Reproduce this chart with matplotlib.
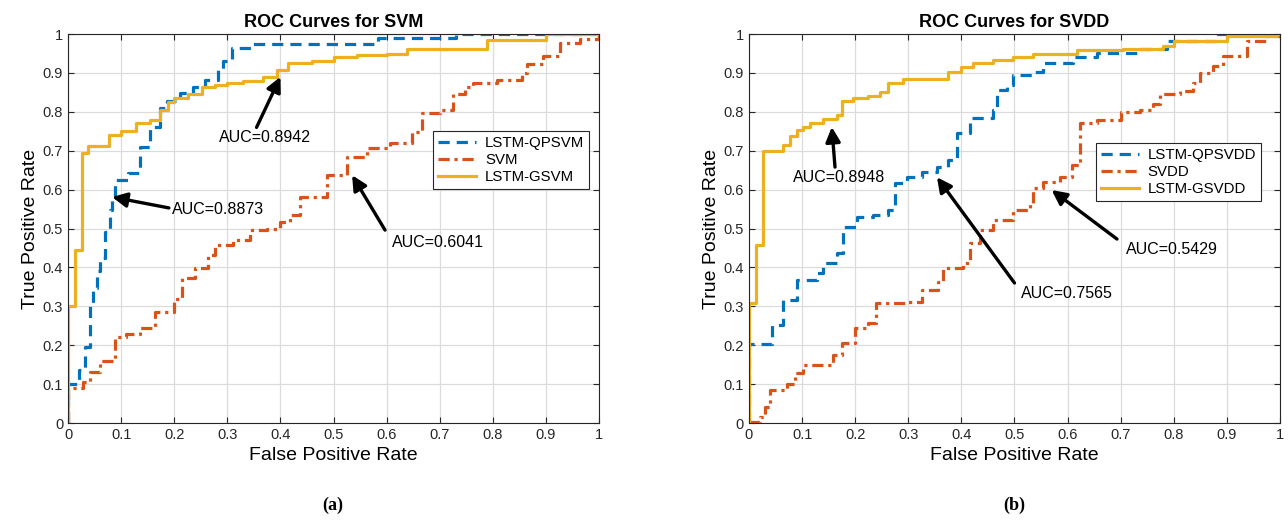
import numpy as np
import matplotlib
matplotlib.use('Agg')
import matplotlib.pyplot as plt

plt.rcParams['font.family'] = ['Liberation Sans', 'DejaVu Sans']

# ---- (a) SVM ----
svm_qp_x = [0, 0, 0.02, 0.032, 0.041, 0.047, 0.054, 0.06, 0.07, 0.079, 0.082, 0.089, 0.113, 0.136,
            0.154, 0.173, 0.186, 0.211, 0.235, 0.258, 0.282, 0.292, 0.309, 0.348, 0.584, 0.73, 1.0]
svm_qp_y = [0, 0.10, 0.136, 0.195, 0.30, 0.347, 0.39, 0.424, 0.49, 0.548, 0.58, 0.625, 0.643, 0.71,
            0.76, 0.81, 0.828, 0.848, 0.864, 0.882, 0.907, 0.93, 0.964, 0.974, 0.99, 1.0, 1.0]

svm_x = [0, 0, 0.028, 0.041, 0.06, 0.089, 0.089, 0.11, 0.136, 0.164, 0.2, 0.215, 0.24, 0.264,
         0.277, 0.31, 0.343, 0.375, 0.4, 0.418, 0.437, 0.487, 0.525, 0.525, 0.563, 0.606, 0.647,
         0.666, 0.70, 0.725, 0.748, 0.763, 0.808, 0.855, 0.864, 0.894, 0.927, 0.964, 1.0]
svm_y = [0, 0.09, 0.105, 0.13, 0.16, 0.175, 0.22, 0.23, 0.244, 0.285, 0.32, 0.373, 0.398, 0.432,
         0.458, 0.47, 0.496, 0.50, 0.517, 0.535, 0.58, 0.637, 0.643, 0.684, 0.707, 0.72, 0.748,
         0.797, 0.805, 0.846, 0.864, 0.874, 0.882, 0.90, 0.923, 0.943, 0.977, 0.987, 1.0]

svm_g_x = [0, 0, 0.013, 0.027, 0.038, 0.077, 0.1, 0.128, 0.154, 0.173, 0.188, 0.2, 0.226, 0.252,
           0.277, 0.3, 0.33, 0.367, 0.393, 0.415, 0.46, 0.5, 0.544, 0.6, 0.638, 0.789, 0.90, 1.0]
svm_g_y = [0, 0.30, 0.445, 0.694, 0.712, 0.74, 0.75, 0.771, 0.78, 0.805, 0.825, 0.835, 0.845, 0.863,
           0.87, 0.875, 0.88, 0.89, 0.907, 0.925, 0.93, 0.94, 0.945, 0.95, 0.962, 0.985, 1.0, 1.0]

# ---- (b) SVDD ----
svdd_qp_x = [0, 0, 0.043, 0.064, 0.09, 0.128, 0.14, 0.165, 0.177, 0.203, 0.234, 0.262, 0.275, 0.297,
             0.326, 0.354, 0.375, 0.392, 0.416, 0.46, 0.467, 0.486, 0.497, 0.535, 0.554, 0.61,
             0.655, 0.736, 0.787, 0.88, 1.0]
svdd_qp_y = [0, 0.203, 0.252, 0.316, 0.368, 0.385, 0.411, 0.437, 0.504, 0.53, 0.535, 0.548, 0.617, 0.632,
             0.645, 0.658, 0.676, 0.745, 0.784, 0.805, 0.856, 0.869, 0.895, 0.902, 0.925, 0.94,
             0.951, 0.962, 0.982, 1.0, 1.0]

svdd_x = [0, 0.02, 0.03, 0.04, 0.072, 0.087, 0.102, 0.158, 0.175, 0.2, 0.224, 0.24, 0.297, 0.326,
          0.356, 0.365, 0.403, 0.416, 0.435, 0.46, 0.497, 0.529, 0.535, 0.554, 0.586, 0.608, 0.623,
          0.655, 0.70, 0.736, 0.761, 0.774, 0.812, 0.836, 0.85, 0.874, 0.893, 0.938, 0.976, 1.0]
svdd_y = [0.003, 0.015, 0.04, 0.085, 0.10, 0.128, 0.149, 0.175, 0.205, 0.244, 0.257, 0.308, 0.311, 0.342,
          0.362, 0.398, 0.411, 0.463, 0.496, 0.522, 0.548, 0.565, 0.604, 0.62, 0.632, 0.663, 0.771,
          0.779, 0.80, 0.805, 0.82, 0.846, 0.854, 0.874, 0.90, 0.918, 0.943, 0.982, 0.995, 1.0]

svdd_g_x = [0, 0, 0.013, 0.027, 0.064, 0.077, 0.09, 0.102, 0.115, 0.14, 0.165, 0.175, 0.196, 0.224,
            0.247, 0.262, 0.29, 0.375, 0.40, 0.422, 0.46, 0.497, 0.535, 0.618, 0.704, 0.78, 0.80,
            0.90, 0.995, 1.0]
svdd_g_y = [0, 0.308, 0.458, 0.70, 0.715, 0.738, 0.753, 0.761, 0.771, 0.781, 0.792, 0.828, 0.835, 0.84,
            0.851, 0.874, 0.884, 0.902, 0.915, 0.925, 0.933, 0.941, 0.949, 0.959, 0.962, 0.969, 0.982,
            0.995, 1.0, 1.0]

ticks = np.round(np.arange(0, 1.01, 0.1), 1)
tick_labels = ['0'] + ['%.1f' % t for t in ticks[1:-1]] + ['1']

blue, red, yellow = '#0072BD', '#D95319', '#EDB120'


def setup(ax, title):
    ax.set_xlim(0, 1)
    ax.set_ylim(0, 1)
    ax.set_xticks(ticks)
    ax.set_yticks(ticks)
    ax.set_xticklabels(tick_labels)
    ax.set_yticklabels(tick_labels)
    ax.tick_params(direction='in', labelsize=10.5, length=4, top=True, right=True,
                   labelcolor='#262626', color='#262626')
    ax.grid(True, color='#dcdcdc', lw=0.9)
    ax.set_axisbelow(True)
    for s in ax.spines.values():
        s.set_color('#262626')
        s.set_linewidth(0.8)
    ax.set_title(title, fontsize=13, fontweight='bold', pad=5)
    ax.set_xlabel('False Positive Rate', fontsize=14, labelpad=4)
    ax.set_ylabel('True Positive Rate', fontsize=14, labelpad=3)


def arrow(ax, tail, tip):
    ax.annotate('', xy=tip, xytext=tail,
                arrowprops=dict(arrowstyle='-|>', color='k', lw=2.4, mutation_scale=22,
                                shrinkA=0, shrinkB=0))


def legend(ax, anchor):
    leg = ax.legend(loc='upper right', bbox_to_anchor=anchor, fontsize=10.8, fancybox=False,
                    edgecolor='#262626', handlelength=2.5, labelspacing=0.2, borderpad=0.35,
                    handletextpad=0.6, framealpha=1)
    leg.get_frame().set_linewidth(0.8)


fig = plt.figure(figsize=(12.88, 5.2), dpi=100)
ax1 = fig.add_axes([0.0528, 0.1865, 0.4123, 0.748])
ax2 = fig.add_axes([0.5815, 0.1865, 0.4123, 0.748])

ax1.plot(svm_qp_x, svm_qp_y, ls=(0, (3.5, 2.2)), color=blue, lw=2.3, drawstyle='steps-post', label='LSTM-QPSVM')
ax1.plot(svm_x, svm_y, ls=(0, (3.5, 1.5, 1, 1.5)), color=red, lw=2.3, drawstyle='steps-post', label='SVM')
ax1.plot(svm_g_x, svm_g_y, ls='-', color=yellow, lw=2.3, drawstyle='steps-post', label='LSTM-GSVM')
setup(ax1, 'ROC Curves for SVM')
arrow(ax1, (0.355, 0.76), (0.40, 0.89))
ax1.text(0.37, 0.735, 'AUC=0.8942', ha='center', va='center', fontsize=11.5)
arrow(ax1, (0.19, 0.553), (0.083, 0.581))
ax1.text(0.196, 0.55, 'AUC=0.8873', ha='left', va='center', fontsize=11.5)
arrow(ax1, (0.597, 0.496), (0.535, 0.637))
ax1.text(0.697, 0.465, 'AUC=0.6041', ha='center', va='center', fontsize=11.5)
legend(ax1, (0.996, 0.771))

ax2.plot(svdd_qp_x, svdd_qp_y, ls=(0, (3.5, 2.2)), color=blue, lw=2.3, drawstyle='steps-post', label='LSTM-QPSVDD')
ax2.plot(svdd_x, svdd_y, ls=(0, (3.5, 1.5, 1, 1.5)), color=red, lw=2.3, drawstyle='steps-post', label='SVDD')
ax2.plot(svdd_g_x, svdd_g_y, ls='-', color=yellow, lw=2.3, drawstyle='steps-post', label='LSTM-GSVDD')
setup(ax2, 'ROC Curves for SVDD')
arrow(ax2, (0.162, 0.658), (0.156, 0.761))
ax2.text(0.17, 0.63, 'AUC=0.8948', ha='center', va='center', fontsize=11.5)
arrow(ax2, (0.50, 0.36), (0.354, 0.632))
ax2.text(0.512, 0.332, 'AUC=0.7565', ha='left', va='center', fontsize=11.5)
arrow(ax2, (0.693, 0.473), (0.57, 0.599))
ax2.text(0.796, 0.445, 'AUC=0.5429', ha='center', va='center', fontsize=11.5)
legend(ax2, (0.979, 0.740))

fig.text(333 / 1288, 1 - 505 / 520, '(a)', ha='center', va='center', fontsize=13,
         fontweight='bold', family=['Liberation Serif', 'DejaVu Serif'])
fig.text(1014 / 1288, 1 - 505 / 520, '(b)', ha='center', va='center', fontsize=13,
         fontweight='bold', family=['Liberation Serif', 'DejaVu Serif'])

fig.savefig('out.png', dpi=100)
